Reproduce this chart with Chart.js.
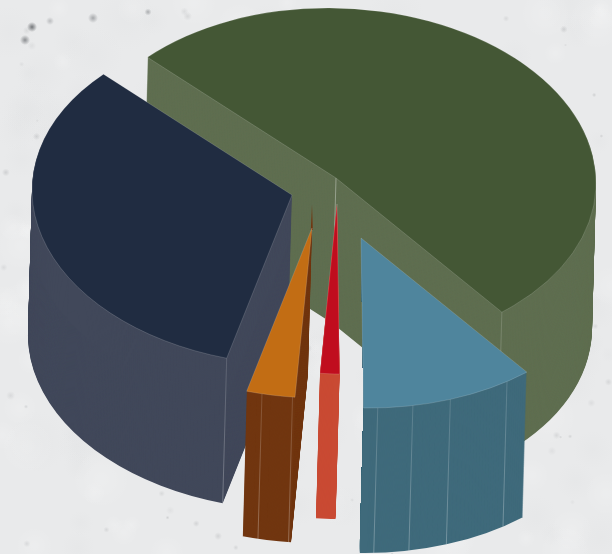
<!DOCTYPE html>
<html>
<head>
<meta charset="utf-8">
<title>Pie chart</title>
<script src="https://cdn.jsdelivr.net/npm/chart.js@4/dist/chart.umd.min.js"></script>
<style>
  html, body { margin: 0; padding: 0; background: #e9eaeb; }
  #wrap { width: 612px; height: 554px; }
</style>
</head>
<body>
<div id="wrap"><canvas id="pie" width="612" height="554"></canvas></div>
<script>
// Slice shares, clockwise from the back edge of the big slice
const shares = [51.9, 10.85, 1.2, 3.0, 33.05];
const startDegrees = -45.7;

// Colours of the top faces and of the walls below them
const topColors = ["#445735", "#4f859d", "#c00d1e", "#c26d14", "#202c41"];
const wallColors = ["#5f6e50", "#3f6a7b", "#c94a33", "#713610", "#41485a"];

// How far each slice is pulled out of the pie, in pixels
const pullX = [11, 36, 12, -13, -33];
const pullY = [-7, 53, 19, 43, 10];

// Back to front
const paintOrder = [0, 4, 3, 2, 1];

// Seams on the round wall, as a fraction along the slice's arc
const wallSeams = [[0, 1], [0.14, 0.5, 0.72, 0.92], [], [0.05, 0.68], [0]];
// Little fin of wall sticking up past the tip of a slice
const tipRise = [0, 0, 0, 23, 0];
// Slices that only show their round wall, not the cut side
const roundWallOnly = [false, true, false, false, false];

// Pie placement and fake 3D
const pieX = 325;
const pieY = 185;
const radius = 260;
const squash = 170 / 260;
const shearX = 3.5 / 260;
const shearY = 2.8 / 260;
const depthX = -4;
const depthY = 145;

// Small repeatable generator for the paper grain
function makeGrain(seed) {
  let s = seed;
  return function () {
    s = (s * 16807) % 2147483647;
    return s / 2147483647;
  };
}

function softDot(ctx, x, y, r, rgb, alpha) {
  const g = ctx.createRadialGradient(x, y, 0, x, y, r);
  g.addColorStop(0, "rgba(" + rgb + "," + alpha + ")");
  g.addColorStop(1, "rgba(" + rgb + ",0)");
  ctx.fillStyle = g;
  ctx.fillRect(x - r, y - r, r * 2, r * 2);
}

const paperPlugin = {
  id: "paper",
  beforeDraw(chart) {
    const { ctx, width, height } = chart;
    const rnd = makeGrain(4711);
    ctx.save();
    ctx.fillStyle = "#e9eaeb";
    ctx.fillRect(0, 0, width, height);
    for (let i = 0; i < 260; i++) {
      const light = rnd() > 0.5;
      softDot(ctx, rnd() * width, rnd() * height, 8 + rnd() * 24,
        light ? "255,255,255" : "205,207,209", light ? 0.16 : 0.09);
    }
    for (let i = 0; i < 130; i++) {
      softDot(ctx, rnd() * width, rnd() * height, 1.5 + rnd() * 3, "140,142,145", 0.08 + rnd() * 0.22);
    }
    // the darker flecks in the top left corner
    softDot(ctx, 32, 27, 5, "85,88,92", 0.8);
    softDot(ctx, 25, 40, 5, "100,103,107", 0.7);
    softDot(ctx, 93, 18, 5, "120,123,127", 0.6);
    softDot(ctx, 50, 21, 4, "130,133,137", 0.45);
    softDot(ctx, 148, 12, 3.5, "120,123,127", 0.55);
    ctx.restore();
  },
};

// Where a point of a slice lands on screen, through the same matrix as the faces
function toScreen(i, angle, r) {
  const X = r * Math.cos(angle);
  const Y = r * Math.sin(angle);
  return {
    x: pieX + pullX[i] + X + shearX * Y,
    y: pieY + pullY[i] + shearY * X + squash * Y,
  };
}

function placeArc(ctx, arc, i, dx, dy) {
  ctx.translate(pieX + pullX[i] + dx, pieY + pullY[i] + dy);
  ctx.transform(1, shearY, shearX, squash, 0, 0);
  ctx.translate(-arc.x, -arc.y);
}

const pie3dPlugin = {
  id: "pie3d",
  beforeDatasetsDraw(chart) {
    const { ctx, width, height } = chart;
    const arcs = chart.getDatasetMeta(0).data;

    paintOrder.forEach((i) => {
      const arc = arcs[i];
      const faceOptions = arc.options;
      const tip = toScreen(i, 0, 0);

      // sweep the slice downwards for the walls
      ctx.save();
      if (roundWallOnly[i]) {
        const corner = toScreen(i, arc.endAngle, arc.outerRadius);
        ctx.beginPath();
        ctx.moveTo(tip.x, tip.y);
        ctx.lineTo(corner.x, corner.y);
        ctx.lineTo(corner.x + depthX, corner.y + depthY);
        ctx.lineTo(corner.x + depthX, height);
        ctx.lineTo(width, height);
        ctx.lineTo(width, 0);
        ctx.lineTo(tip.x, 0);
        ctx.closePath();
        ctx.clip();
      }
      arc.options = { ...faceOptions, backgroundColor: wallColors[i], borderWidth: 0 };
      for (let d = depthY; d > 0; d--) {
        ctx.save();
        placeArc(ctx, arc, i, (depthX * d) / depthY, d);
        arc.draw(ctx);
        ctx.restore();
      }
      arc.options = faceOptions;
      ctx.restore();

      // fin above the tip
      if (tipRise[i] > 0) {
        ctx.fillStyle = wallColors[i];
        ctx.beginPath();
        ctx.moveTo(tip.x, tip.y - tipRise[i]);
        ctx.lineTo(tip.x + 0.8, tip.y + 2);
        ctx.lineTo(tip.x - 1.2, tip.y + 2);
        ctx.closePath();
        ctx.fill();
      }

      // seams on the wall
      wallSeams[i].forEach((f) => {
        const a = arc.startAngle + (arc.endAngle - arc.startAngle) * f;
        const p = toScreen(i, a, arc.outerRadius);
        const seam = ctx.createLinearGradient(0, p.y, 0, p.y + depthY);
        seam.addColorStop(0, "rgba(255,255,255,0.14)");
        seam.addColorStop(1, "rgba(255,255,255,0.28)");
        ctx.strokeStyle = seam;
        ctx.lineWidth = 1;
        ctx.beginPath();
        ctx.moveTo(p.x, p.y);
        ctx.lineTo(p.x + depthX, p.y + depthY);
        ctx.stroke();
      });

      // seam under the tip of the big slice
      if (i === 0) {
        ctx.strokeStyle = "rgba(255,255,255,0.35)";
        ctx.lineWidth = 1;
        ctx.beginPath();
        ctx.moveTo(tip.x, tip.y);
        ctx.lineTo(tip.x + depthX, tip.y + depthY);
        ctx.stroke();
      }

      // top face
      ctx.save();
      placeArc(ctx, arc, i, 0, 0);
      arc.draw(ctx);
      ctx.restore();
    });
    return false;
  },
};

new Chart(document.getElementById("pie"), {
  type: "pie",
  data: {
    datasets: [
      {
        data: shares,
        backgroundColor: topColors,
        borderColor: "rgba(255,255,255,0.3)",
        borderWidth: 0.6,
      },
    ],
  },
  options: {
    responsive: false,
    animation: false,
    radius: radius,
    rotation: startDegrees,
    events: [],
    plugins: {
      legend: { display: false },
      tooltip: { enabled: false },
    },
  },
  plugins: [paperPlugin, pie3dPlugin],
});
</script>
</body>
</html>
